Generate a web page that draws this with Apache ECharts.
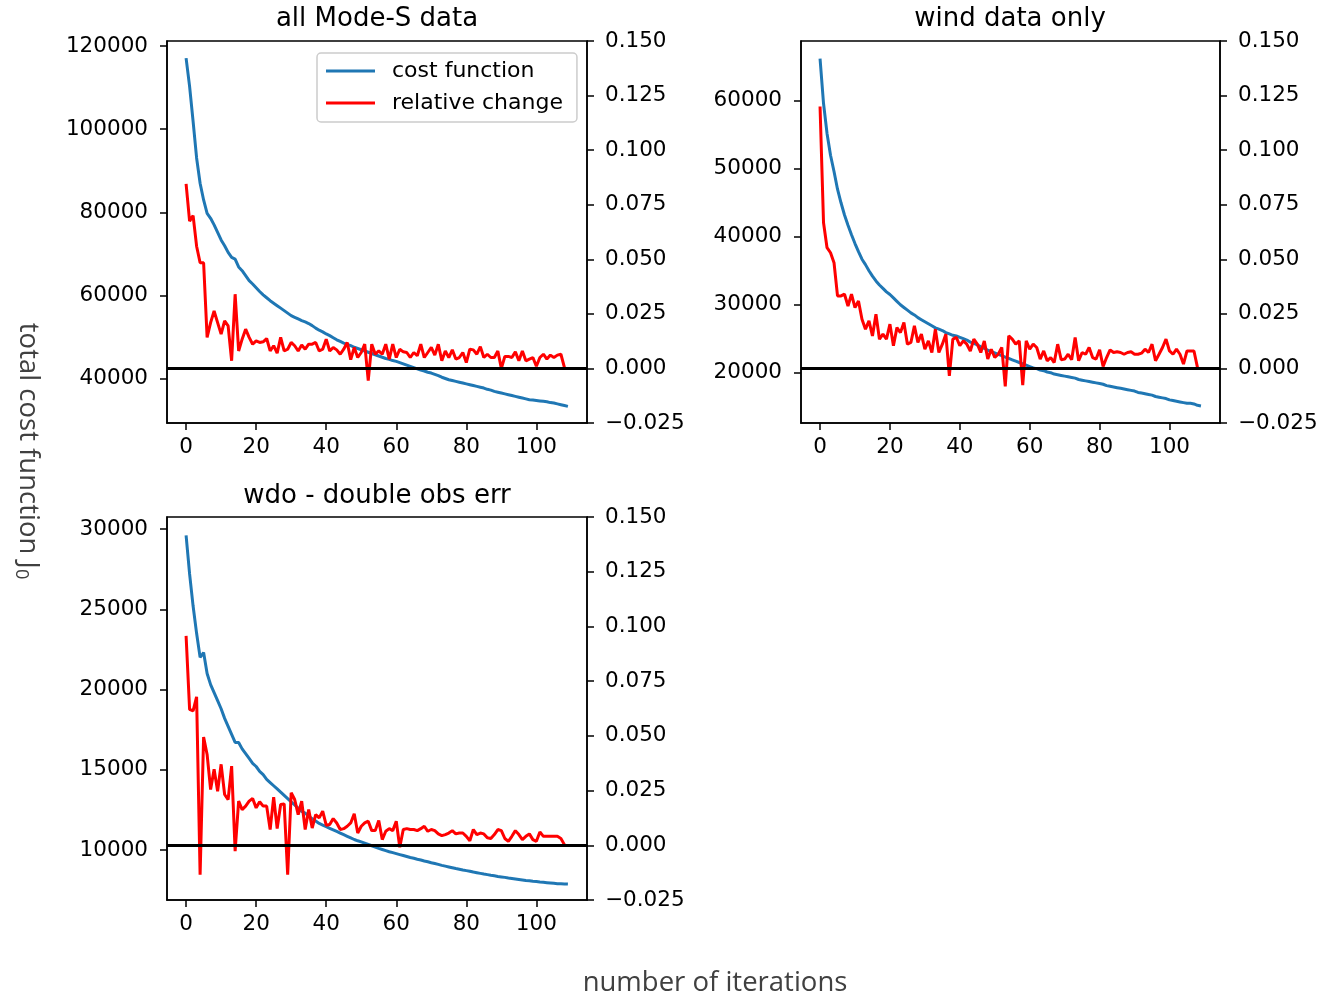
<!DOCTYPE html>
<html>
<head>
<meta charset="utf-8">
<script src="https://cdn.jsdelivr.net/npm/echarts@6/dist/echarts.min.js"></script>
<style>
html, body { margin: 0; padding: 0; background: #fff; }
#main { width: 1322px; height: 996px; }
</style>
</head>
<body>
<div id="main"></div>
<script>
// panel titles and ticks
var panelTitles = ['all Mode-S data', 'wind data only', 'wdo - double obs err'];
var xTicks = [0, 20, 40, 60, 80, 100];
var costTicksAll = [40000, 60000, 80000, 100000, 120000];
var costTicksWind = [20000, 30000, 40000, 50000, 60000];
var costTicksWdo = [10000, 15000, 20000, 25000, 30000];
var relTicks = [-0.025, 0, 0.025, 0.05, 0.075, 0.1, 0.125, 0.15];

// all Mode-S data
var costAll = [
  117100, 110300, 101900, 93100, 87000, 83000, 79800, 78600, 77000, 75200,
  73400, 72000, 70400, 69200, 68800, 66900, 66000, 64800, 63600, 62800,
  61900, 61000, 60200, 59500, 58800, 58200, 57600, 57000, 56400, 55800,
  55200, 54800, 54400, 54000, 53700, 53300, 52800, 52200, 51700, 51300,
  50800, 50400, 49900, 49400, 49000, 48600, 48300, 48000, 47600, 47300,
  47000, 46700, 46400, 46100, 45800, 45500, 45200, 44900, 44700, 44400,
  44200, 43900, 43600, 43300, 43000, 42700, 42400, 42100, 41900, 41600,
  41400, 41100, 40800, 40400, 40100, 39800, 39600, 39400, 39200, 39000,
  38800, 38600, 38400, 38200, 38000, 37800, 37500, 37300, 37000, 36800,
  36600, 36400, 36200, 36000, 35800, 35600, 35400, 35200, 35000, 34900,
  34800, 34700, 34600, 34500, 34300, 34200, 34000, 33800, 33600, 33400
];
var relAll = [
  0.0845, 0.0675, 0.070, 0.056, 0.0484, 0.0484, 0.0142, 0.021, 0.0263, 0.021,
  0.0157, 0.0218, 0.0195, 0.0035, 0.034, 0.008, 0.0134, 0.018, 0.0142, 0.0111,
  0.0126, 0.0119, 0.0122, 0.0137, 0.008, 0.0104, 0.007, 0.0142, 0.008, 0.0088,
  0.0119, 0.0104, 0.008, 0.0107, 0.0088, 0.0111, 0.0111, 0.0119, 0.008, 0.0088,
  0.0134, 0.008, 0.0096, 0.0085, 0.0065, 0.0088, 0.0119, 0.004, 0.0096, 0.005,
  0.0073, 0.0111, -0.0056, 0.0111, 0.0065, 0.008, 0.0065, 0.0111, 0.0043, 0.0111,
  0.005, 0.0088, 0.0076, 0.0073, 0.005, 0.0073, 0.0058, 0.0111, 0.005, 0.0073,
  0.0096, 0.0061, 0.0111, 0.0035, 0.008, 0.005, 0.0085, 0.0043, 0.005, 0.0073,
  0.0027, 0.0088, 0.0085, 0.0065, 0.01, 0.005, 0.0065, 0.005, 0.005, 0.008,
  0.0, 0.0055, 0.0055, 0.005, 0.0076, 0.0035, 0.008, 0.0035, 0.0043, 0.005,
  0.001, 0.005, 0.0065, 0.0043, 0.0061, 0.005, 0.0061, 0.0065, 0.0005
];

// wind data only
var costWind = [
  66200, 59600, 55200, 52000, 49600, 47000, 45000, 43200, 41700, 40300,
  39000, 37800, 36700, 35900, 35000, 34200, 33500, 32900, 32400, 31900,
  31500, 31000, 30500, 30000, 29600, 29200, 28800, 28500, 28100, 27800,
  27500, 27200, 26900, 26600, 26400, 26200, 25900, 25700, 25500, 25400,
  25200, 25000, 24800, 24500, 24300, 24100, 23800, 23600, 23300, 23100,
  22900, 22700, 22500, 22300, 22100, 21900, 21700, 21500, 21300, 21100,
  20900, 20700, 20600, 20400, 20300, 20100, 20000, 19800, 19700, 19600,
  19500, 19400, 19300, 19200, 19000, 18900, 18800, 18700, 18600, 18500,
  18400, 18300, 18100, 18000, 17900, 17800, 17700, 17600, 17500, 17400,
  17300, 17100, 17000, 16900, 16800, 16700, 16500, 16400, 16300, 16200,
  16000, 15900, 15800, 15700, 15600, 15500, 15500, 15400, 15200, 15100
];
var relWind = [
  0.120, 0.0667, 0.0553, 0.053, 0.0484, 0.0332, 0.0332, 0.034, 0.0286, 0.034,
  0.0279, 0.0309, 0.0225, 0.018, 0.0218, 0.0149, 0.0248, 0.0134, 0.0157, 0.0134,
  0.0203, 0.0104, 0.0187, 0.0164, 0.021, 0.0111, 0.0119, 0.0195, 0.0119, 0.0157,
  0.0088, 0.0126, 0.0073, 0.018, 0.0073, 0.0111, 0.0157, -0.0034, 0.0134, 0.0142,
  0.0104, 0.0126, 0.0111, 0.008, 0.0134, 0.0111, 0.0073, 0.0126, 0.0043, 0.0088,
  0.005, 0.0065, 0.0096, -0.0082, 0.0149, 0.0134, 0.0111, 0.0126, -0.0076, 0.0126,
  0.0088, 0.0111, 0.0096, 0.0043, 0.008, 0.0035, 0.005, 0.0027, 0.0111, 0.004,
  0.0043, 0.0065, 0.004, 0.0142, 0.0035, 0.0073, 0.0065, 0.0096, 0.005, 0.0043,
  0.0085, 0.0009, 0.005, 0.0085, 0.0073, 0.0076, 0.0073, 0.0065, 0.0073, 0.0076,
  0.0065, 0.0065, 0.007, 0.0088, 0.0073, 0.0111, 0.0035, 0.0065, 0.0096, 0.0134,
  0.008, 0.0065, 0.0088, 0.0065, 0.002, 0.008, 0.008, 0.008, 0.0005
];

// wdo - double obs err
var costWdo = [
  29600, 27200, 25200, 23500, 22000, 22300, 21000, 20300, 19800, 19300,
  18800, 18200, 17700, 17200, 16700, 16700, 16300, 16000, 15700, 15400,
  15200, 14900, 14700, 14400, 14200, 14000, 13800, 13600, 13400, 13200,
  13000, 12800, 12600, 12400, 12300, 12100, 11950, 11800, 11650, 11550,
  11450, 11350, 11250, 11150, 11050, 10950, 10850, 10750, 10650, 10570,
  10500, 10420, 10340, 10260, 10180, 10100, 10030, 9960, 9890, 9830,
  9770, 9710, 9650, 9590, 9530, 9480, 9420, 9370, 9310, 9260,
  9200, 9150, 9100, 9040, 8990, 8940, 8890, 8840, 8800, 8750,
  8710, 8670, 8620, 8580, 8540, 8500, 8460, 8420, 8390, 8350,
  8320, 8290, 8250, 8220, 8190, 8160, 8130, 8100, 8080, 8050,
  8030, 8000, 7980, 7960, 7940, 7920, 7900, 7890, 7880, 7870
];
var relWdo = [
  0.0957, 0.0621, 0.0614, 0.0678, -0.0134, 0.0495, 0.0415, 0.0255, 0.0347, 0.0247,
  0.037, 0.0232, 0.0209, 0.0362, -0.0027, 0.0202, 0.0163, 0.0179, 0.0202, 0.0214,
  0.0171, 0.0199, 0.0179, 0.0179, 0.0072, 0.022, 0.0076, 0.0186, 0.0189, -0.0134,
  0.024, 0.0209, 0.014, 0.0202, 0.0072, 0.0163, 0.0079, 0.014, 0.0125, 0.0156,
  0.0092, 0.0095, 0.0122, 0.0102, 0.0072, 0.0076, 0.0087, 0.0102, 0.0144, 0.0056,
  0.0087, 0.0102, 0.011, 0.0067, 0.0067, 0.0113, 0.0026, 0.0064, 0.0076, 0.0067,
  0.011, -0.0009, 0.0072, 0.0076, 0.0072, 0.0072, 0.0067, 0.0076, 0.0087, 0.0064,
  0.0072, 0.0067, 0.0052, 0.0044, 0.0049, 0.0056, 0.0067, 0.0052, 0.0056, 0.0056,
  0.0041, 0.0021, 0.0072, 0.0049, 0.0056, 0.0052, 0.0034, 0.0031, 0.0049, 0.0072,
  0.0067, 0.0031, 0.0018, 0.0041, 0.0067, 0.0049, 0.0026, 0.0041, 0.0052, 0.0026,
  0.0018, 0.0061, 0.0041, 0.0041, 0.0041, 0.0041, 0.0041, 0.0031, 0.0003
];

var FONT = 'DejaVu Sans';
var TICK_SIZE = 21.5;
var LABEL_FONT = 'Open Sans';

function toPairs(arr) {
  return arr.map(function (v, i) { return [i, v]; });
}

function xAxisFor(grid) {
  return {
    type: 'value', gridIndex: grid, min: -5.45, max: 114.45,
    axisLine: { show: true, onZero: false, lineStyle: { color: '#000', width: 1.5 } },
    axisTick: { show: true, length: 7, customValues: xTicks, lineStyle: { color: '#000', width: 1.5 } },
    axisLabel: { customValues: xTicks, margin: 13, color: '#000', fontFamily: FONT, fontSize: TICK_SIZE,
      formatter: function (v) { return String(v); } },
    splitLine: { show: false }
  };
}

function costAxis(grid, min, max, ticks) {
  return {
    type: 'value', gridIndex: grid, position: 'left', min: min, max: max,
    axisLine: { show: true, onZero: false, lineStyle: { color: '#000', width: 1.5 } },
    axisTick: { show: true, length: 7, customValues: ticks, lineStyle: { color: '#000', width: 1.5 } },
    axisLabel: { customValues: ticks, margin: 19, color: '#000', fontFamily: FONT, fontSize: TICK_SIZE,
      formatter: function (v) { return String(v); } },
    splitLine: { show: false }
  };
}

function relAxis(grid) {
  return {
    type: 'value', gridIndex: grid, position: 'right', min: -0.025, max: 0.15,
    axisLine: { show: true, onZero: false, lineStyle: { color: '#000', width: 1.5 } },
    axisTick: { show: true, length: 7, customValues: relTicks, lineStyle: { color: '#000', width: 1.5 } },
    axisLabel: {
      customValues: relTicks, margin: 18, color: '#000', fontFamily: FONT, fontSize: TICK_SIZE,
      formatter: function (v) { return v.toFixed(3).replace('-', '\u2212'); }
    },
    splitLine: { show: false }
  };
}

function costSeries(grid, yIdx, data) {
  return {
    name: 'cost function', type: 'line', xAxisIndex: grid, yAxisIndex: yIdx,
    data: toPairs(data), showSymbol: false, symbol: 'none', z: 2,
    lineStyle: { color: '#1f77b4', width: 3 }, itemStyle: { color: '#1f77b4' }
  };
}

function relSeries(grid, yIdx, data) {
  return {
    name: 'relative change', type: 'line', xAxisIndex: grid, yAxisIndex: yIdx,
    data: toPairs(data), showSymbol: false, symbol: 'none', z: 3,
    lineStyle: { color: '#ff0000', width: 3 }, itemStyle: { color: '#ff0000' },
    markLine: {
      silent: true, symbol: 'none', label: { show: false },
      lineStyle: { color: '#000', width: 3, type: 'solid' },
      data: [{ yAxis: 0 }]
    }
  };
}

var chart = echarts.init(document.getElementById('main'), null, { renderer: 'canvas' });

var option = {
  backgroundColor: '#fff',
  animation: false,
  title: [
    { text: panelTitles[0], left: 377, top: 6, textAlign: 'center', padding: 0,
      textStyle: { fontFamily: FONT, fontSize: 26, fontWeight: 'normal', color: '#000' } },
    { text: panelTitles[1], left: 1010, top: 6, textAlign: 'center', padding: 0,
      textStyle: { fontFamily: FONT, fontSize: 26, fontWeight: 'normal', color: '#000' } },
    { text: panelTitles[2], left: 377, top: 483, textAlign: 'center', padding: 0,
      textStyle: { fontFamily: FONT, fontSize: 26, fontWeight: 'normal', color: '#000' } }
  ],
  legend: {
    data: ['cost function', 'relative change'],
    orient: 'vertical', left: 317, top: 53,
    padding: [7, 14, 8, 9], itemGap: 10,
    itemWidth: 49, itemHeight: 3, icon: 'rect',
    backgroundColor: 'rgba(255,255,255,0.8)', borderColor: '#ccc', borderWidth: 1.5, borderRadius: 4,
    selectedMode: false,
    textStyle: { fontFamily: FONT, fontSize: 22, color: '#000', padding: [0, 0, 0, 12] },
    z: 10
  },
  grid: [
    { left: 167, top: 41, width: 420, height: 382, show: true, borderColor: '#000', borderWidth: 1.5, backgroundColor: 'transparent' },
    { left: 801, top: 41, width: 419, height: 382, show: true, borderColor: '#000', borderWidth: 1.5, backgroundColor: 'transparent' },
    { left: 167, top: 517, width: 420, height: 383, show: true, borderColor: '#000', borderWidth: 1.5, backgroundColor: 'transparent' }
  ],
  xAxis: [xAxisFor(0), xAxisFor(1), xAxisFor(2)],
  yAxis: [
    costAxis(0, 29400, 121200, costTicksAll), relAxis(0),
    costAxis(1, 12600, 68800, costTicksWind), relAxis(1),
    costAxis(2, 6880, 30750, costTicksWdo), relAxis(2)
  ],
  series: [
    costSeries(0, 0, costAll), relSeries(0, 1, relAll),
    costSeries(1, 2, costWind), relSeries(1, 3, relWind),
    costSeries(2, 4, costWdo), relSeries(2, 5, relWdo)
  ],
  graphic: [
    {
      type: 'text', x: 28, y: 451, rotation: -Math.PI / 2,
      style: {
        text: '{a|total cost function J}{b|0}',
        align: 'center', verticalAlign: 'middle',
        rich: {
          a: { fontFamily: LABEL_FONT, fontSize: 27.5, lineHeight: 32, fill: '#404040' },
          b: { fontFamily: LABEL_FONT, fontSize: 18, lineHeight: 12, verticalAlign: 'bottom', fill: '#404040' }
        }
      }
    },
    {
      type: 'text', x: 715, y: 983,
      style: {
        text: 'number of iterations', fontFamily: LABEL_FONT, fontSize: 27.5, fill: '#404040',
        align: 'center', verticalAlign: 'middle'
      }
    }
  ]
};

chart.setOption(option);
</script>
</body>
</html>
